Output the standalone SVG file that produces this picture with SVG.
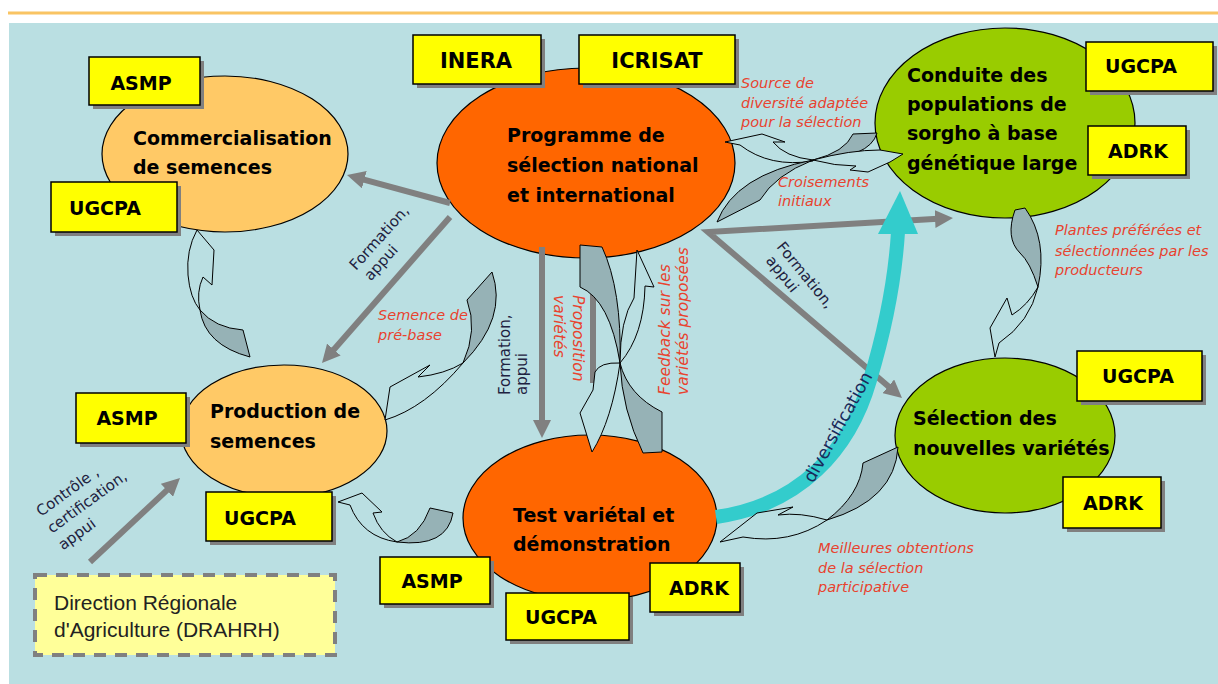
<svg xmlns="http://www.w3.org/2000/svg" width="1218" height="684" viewBox="0 0 1218 684">
<defs>
<style>
.bg{fill:#BADFE2}
.ell{stroke:#000;stroke-width:1.2}
.lo{fill:#FFC966}
.or{fill:#FF6600}
.gr{fill:#99CC00}
.nl{font-family:"DejaVu Sans",sans-serif;font-weight:bold;font-size:19px;fill:#000}
.box{fill:#FFFF00;stroke:#000;stroke-width:1.5}
.sh{fill:#808080}
.bl{font-family:"DejaVu Sans",sans-serif;font-weight:bold;font-size:19px;fill:#000;text-anchor:middle}
.red{font-family:"DejaVu Sans",sans-serif;font-style:italic;font-size:14.5px;fill:#E8432F}
.dk{font-family:"DejaVu Sans",sans-serif;font-size:15px;fill:#1E2240}
.conn{fill:none;stroke:#808080;stroke-width:6;stroke-miterlimit:10}
.cl{fill:#BADFE2;stroke:#000;stroke-width:1;stroke-linejoin:round}
.cd{fill:#96B2B6;stroke:#000;stroke-width:1;stroke-linejoin:round}
.dra{font-family:"Liberation Sans",Arial,sans-serif;font-size:21px;fill:#222}
</style>
<marker id="ah" viewBox="0 0 10 10" refX="4" refY="5" markerWidth="3" markerHeight="3" orient="auto-start-reverse" markerUnits="strokeWidth">
<path d="M0,0 L10,5 L0,10 Z" fill="#808080"/>
</marker>
</defs>

<rect x="0" y="0" width="1218" height="684" fill="#FFFFFF"/>
<line x1="8" y1="13" x2="1218" y2="13" stroke="#F9C463" stroke-width="3"/>
<rect class="bg" x="9" y="23" width="1209" height="661"/>

<!-- ellipse nodes -->
<g id="n-commercialisation">
<ellipse class="ell lo" cx="225" cy="154" rx="123" ry="78"/>
<text class="nl" x="133" y="145">Commercialisation</text>
<text class="nl" x="133" y="174">de semences</text>
</g>
<g id="n-programme">
<ellipse class="ell or" cx="586" cy="163" rx="149" ry="95"/>
<text class="nl" x="507" y="142">Programme de</text>
<text class="nl" x="507" y="172">sélection national</text>
<text class="nl" x="507" y="202">et international</text>
</g>
<g id="n-conduite">
<ellipse class="ell gr" cx="1005" cy="123" rx="130" ry="95"/>
<text class="nl" x="907" y="82">Conduite des</text>
<text class="nl" x="907" y="111">populations de</text>
<text class="nl" x="907" y="140">sorgho à base</text>
<text class="nl" x="907" y="170">génétique large</text>
</g>
<g id="n-production">
<ellipse class="ell lo" cx="284" cy="431" rx="103" ry="66"/>
<text class="nl" x="210" y="418">Production de</text>
<text class="nl" x="210" y="448">semences</text>
</g>
<g id="n-test">
<ellipse class="ell or" cx="590" cy="518" rx="127" ry="83"/>
<text class="nl" x="513" y="522">Test variétal et</text>
<text class="nl" x="513" y="551">démonstration</text>
</g>
<g id="n-selection">
<ellipse class="ell gr" cx="1005" cy="435.5" rx="110" ry="77.5"/>
<text class="nl" x="913" y="425">Sélection des</text>
<text class="nl" x="913" y="455">nouvelles variétés</text>
</g>

<!-- connectors -->
<g id="connectors">
<line class="conn" x1="593" y1="258" x2="593" y2="383"/>
<path class="conn" d="M450,203 L357.4,177.8" marker-end="url(#ah)"/>
<path class="conn" d="M450,217 L329.1,354.9" marker-end="url(#ah)"/>
<path class="conn" d="M542,247 L542,427.2" marker-end="url(#ah)"/>
<path class="conn" d="M942.2,218.6 L708,232 L893.8,391" marker-start="url(#ah)" marker-end="url(#ah)"/>
<path class="conn" d="M90,562 L172.1,485.4" marker-end="url(#ah)"/>

<path d="M716,517 C800,505 850,450 870,380 C885,330 895,280 898,232" fill="none" stroke="#33CCCC" stroke-width="14"/>
<polygon points="878,234 918,234 900,191" fill="#33CCCC"/>

<!-- curved block arrows -->
<path class="cl" d="M200,310 Q196,292 203,277 L212,285 L214,250 L197,230 Q186,250 188,275 Q190,298 200,310 Z"/>
<path class="cd" d="M200,310 Q205,345 250,357 L243,330 Q215,328 200,310 Z"/>

<path class="cl" d="M463,363 Q445,374 418,377 L430,365 L390,387 L385,420 Q425,408 463,363 Z"/>
<path class="cd" d="M467,300 L492,272 Q508,318 463,363 Q478,330 467,300 Z"/>

<path class="cl" d="M397,542 Q362,537 350,505 L338,502 L362,493 L382,512 L373,513 Q380,533 397,542 Z"/>
<path class="cd" d="M397,542 Q420,536 430,508 L453,513 Q447,548 397,542 Z"/>

<path class="cl" d="M827,520 Q800,512 778,515 L793,507 L757,513 L720,542 L743,537 Q790,545 827,520 Z"/>
<path class="cd" d="M827,520 Q860,495 863,463 L898,447 Q895,500 827,520 Z"/>

<path class="cl" d="M1038,287 Q1028,305 1012,315 L1007,298 L990,328 L995,357 L999,343 Q1030,322 1038,287 Z"/>
<path class="cd" d="M1015,210 L1025,208 Q1048,240 1038,287 Q1030,262 1020,253 Q1005,238 1015,210 Z"/>

<path class="cl" d="M813,160 Q785,157 773,142 L785,142 L762,134 L725,142 L740,145 Q770,168 813,161 Z"/>
<path class="cd" d="M813,160 Q845,152 853,134 L877,133 Q870,158 813,160 Z"/>
<path class="cl" d="M813,160 Q850,150 880,150 L903,154 L890,162 L868,172 L850,170 L856,166 Q835,166 813,160 Z"/>
<path class="cd" d="M813,160 Q735,175 717,222 L760,200 Q775,175 813,160 Z"/>

<path class="cd" d="M580,245 L602,247 Q622,290 620,363 Q610,300 580,287 Z"/>
<path class="cl" d="M620,363 Q600,362 595,372 L593,390 L580,413 L592,452 Q612,420 620,363 Z"/>
<path class="cl" d="M620,363 Q620,320 634,298 L637,250 L654,287 L645,286 Q644,335 620,363 Z"/>
<path class="cd" d="M620,363 Q628,395 662,412 L662,452 L643,453 Q622,410 620,363 Z"/>

<!-- connector labels -->
<text class="dk" transform="translate(356,271) rotate(-48)"><tspan x="0" y="0">Formation,</tspan><tspan x="2" y="18">appui</tspan></text>
<text class="dk" transform="translate(510,395) rotate(-90)"><tspan x="0" y="0">Formation,</tspan><tspan x="0" y="17">appui</tspan></text>
<text class="dk" transform="translate(776,247) rotate(51)"><tspan x="0" y="0">Formation,</tspan><tspan x="4" y="17">appui</tspan></text>
<text class="dk" transform="translate(41,517) rotate(-36)"><tspan x="0" y="0">Contrôle ,</tspan><tspan x="-1" y="20">certification,</tspan><tspan x="-2" y="40">appui</tspan></text>
<text class="dk" style="font-size:17.5px;fill:#1A2A5A" text-anchor="middle" transform="translate(843,430) rotate(-61)">diversification</text>

<text class="red"><tspan x="741" y="88">Source de</tspan><tspan x="741" y="108">diversité adaptée</tspan><tspan x="741" y="127">pour la sélection</tspan></text>
<text class="red"><tspan x="778" y="187">Croisements</tspan><tspan x="778" y="206">initiaux</tspan></text>
<text class="red"><tspan x="1055" y="235">Plantes préférées et</tspan><tspan x="1055" y="256">sélectionnées par les</tspan><tspan x="1055" y="275">producteurs</tspan></text>
<text class="red"><tspan x="378" y="320">Semence de</tspan><tspan x="378" y="340">pré-base</tspan></text>
<text class="red"><tspan x="818" y="553">Meilleures obtentions</tspan><tspan x="818" y="573">de la sélection</tspan><tspan x="818" y="592">participative</tspan></text>
<text class="red" style="font-size:15.5px" transform="translate(573,295) rotate(90)"><tspan x="0" y="0">Proposition</tspan><tspan x="0" y="19">variétés</tspan></text>
<text class="red" style="font-size:15.5px" transform="translate(670,395) rotate(-90)"><tspan x="0" y="0">Feedback sur les</tspan><tspan x="0" y="18">variétés proposées</tspan></text>
</g>

<!-- box nodes -->
<g id="b-asmp1"><rect class="sh" x="93" y="61" width="111" height="48"/><rect class="box" x="89" y="57" width="111" height="48"/><text class="bl" x="141" y="90">ASMP</text></g>
<g id="b-ugcpa1"><rect class="sh" x="55" y="186" width="126" height="50"/><rect class="box" x="51" y="182" width="126" height="50"/><text class="bl" x="105" y="215">UGCPA</text></g>
<g id="b-inera"><rect class="sh" x="417" y="39" width="128" height="49"/><rect class="box" x="413" y="35" width="128" height="49"/><text class="bl" style="font-size:21px" x="476" y="68">INERA</text></g>
<g id="b-icrisat"><rect class="sh" x="583" y="39" width="156" height="49"/><rect class="box" x="579" y="35" width="156" height="49"/><text class="bl" style="font-size:21px" x="657" y="68">ICRISAT</text></g>
<g id="b-ugcpa2"><rect class="sh" x="1090" y="46" width="127" height="49"/><rect class="box" x="1086" y="42" width="127" height="49"/><text class="bl" x="1141" y="73">UGCPA</text></g>
<g id="b-adrk1"><rect class="sh" x="1092" y="130" width="98" height="49"/><rect class="box" x="1088" y="126" width="98" height="49"/><text class="bl" x="1138" y="158">ADRK</text></g>
<g id="b-asmp2"><rect class="sh" x="80" y="397" width="110" height="50"/><rect class="box" x="76" y="393" width="110" height="50"/><text class="bl" x="127" y="425">ASMP</text></g>
<g id="b-ugcpa3"><rect class="sh" x="210" y="496" width="126" height="49"/><rect class="box" x="206" y="492" width="126" height="49"/><text class="bl" x="260" y="525">UGCPA</text></g>
<g id="b-asmp3"><rect class="sh" x="384" y="561" width="110" height="47"/><rect class="box" x="380" y="557" width="110" height="47"/><text class="bl" x="432" y="588">ASMP</text></g>
<g id="b-ugcpa4"><rect class="sh" x="510" y="597" width="123" height="47"/><rect class="box" x="506" y="593" width="123" height="47"/><text class="bl" x="561" y="624">UGCPA</text></g>
<g id="b-adrk2"><rect class="sh" x="654" y="567" width="90" height="49"/><rect class="box" x="650" y="563" width="90" height="49"/><text class="bl" x="699" y="595">ADRK</text></g>
<g id="b-ugcpa5"><rect class="sh" x="1081" y="355" width="125" height="50"/><rect class="box" x="1077" y="351" width="125" height="50"/><text class="bl" x="1138" y="383">UGCPA</text></g>
<g id="b-adrk3"><rect class="sh" x="1067" y="481" width="98" height="51"/><rect class="box" x="1063" y="477" width="98" height="51"/><text class="bl" x="1113" y="510">ADRK</text></g>

<g id="n-drahrh">
<rect x="35" y="575" width="300" height="80" fill="#FFFF99" stroke="#808080" stroke-width="4" stroke-dasharray="12 9"/>
<text class="dra" x="54" y="610">Direction Régionale</text>
<text class="dra" x="54" y="637">d'Agriculture (DRAHRH)</text>
</g>
</svg>
